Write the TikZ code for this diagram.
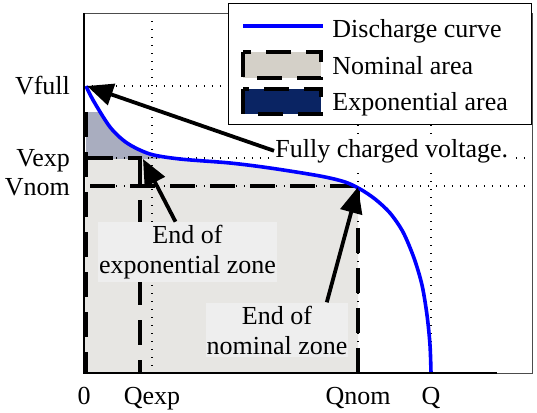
\documentclass[tikz,border=0pt]{standalone}
\usepackage{fontspec}
\setmainfont{Liberation Serif}
\usetikzlibrary{arrows.meta}

\definecolor{nomfill}{HTML}{E7E6E3}
\definecolor{expfill}{HTML}{A9ADBF}
\definecolor{legnom}{HTML}{D4D0C8}
\definecolor{legexp}{HTML}{0A2463}
\definecolor{boxfill}{HTML}{EEEEEE}

\newcommand{\dischargecurve}{plot[smooth] coordinates {(86,86) (93,100) (110,127) (127,143) (150,154) (180,159) (230,163) (270,168) (320,176) (345,182) (360,189) (375,199) (390,213) (403,232) (414,258) (422,285) (427,315) (430,345) (431,373)}}

\begin{document}
\begin{tikzpicture}[x=0.5pt, y=-0.5pt, font=\rmfamily\fontsize{13}{15}\selectfont]
        \useasboundingbox (0,0) rectangle (537,413);

        % areas under the curve
        \begin{scope}
            \clip (84,158) rectangle (358,373);
            \fill[nomfill] \dischargecurve -- (84,373) -- cycle;
        \end{scope}
        \begin{scope}
            \clip (86,112) rectangle (160,158);
            \fill[expfill] \dischargecurve -- (84,373) -- cycle;
        \end{scope}

        \begin{scope}[
            grid/.style={draw=black, line width=0.6pt, dash pattern=on 0.6pt off 3.4pt},
            zone/.style={draw=black, line width=2pt, dash pattern=on 12.5pt off 7.5pt}]
            \foreach \gx in {152, 358, 431}
                \draw[grid] (\gx,13) -- (\gx,373);
            \foreach \gy in {86, 158, 186}
                \draw[grid] (84,\gy) -- (532,\gy);
            \draw[zone] (86,112) -- (86,373);
            \draw[zone] (88,158) -- (142,158);
            \draw[zone] (140,160) -- (140,373);
            \draw[zone] (90,186) -- (358,186);
            \draw[zone] (358,188) -- (358,373);
        \end{scope}

        \draw[blue, line width=1.8pt] \dischargecurve;

        % axes
        \draw[black!70, line width=0.5pt] (84,13) rectangle (532,373);
        \draw[black, line width=0.8pt] (84,13) -- (84,373) -- (497,373);

        \coordinate (pfull) at (87,86);
        \coordinate (pexp) at (143,159);
        \coordinate (pnom) at (358,187);

        \begin{scope}[
            tick/.style={anchor=base},
            vlabel/.style={anchor=base east},
            note/.style={align=center, inner xsep=0.5pt, inner ysep=1.5pt}]
            \node[tick] (q0) at (84,404) {0};
            \node[tick] (qexp) at (152,404) {Qexp};
            \node[tick] (qnom) at (358,404) {Qnom};
            \node[tick] (qq) at (431,404) {Q};
            \node[vlabel] (vfull) at (77,94) {Vfull};
            \node[vlabel] (vexp) at (77,166) {Vexp};
            \node[vlabel] (vnom) at (77,195) {Vnom};
            \node[note, fill=white, anchor=base west] (fulltxt) at (274,157) {Fully charged voltage.};
            \node[note, fill=boxfill] (exptxt) at (187.5,252) {End of\\exponential zone};
            \node[note, fill=boxfill] (nomtxt) at (277,330) {End of\\nominal zone};
        \end{scope}

        \begin{scope}[
            every edge/.style={draw=black, line width=1.9pt, -{Triangle[length=13pt, width=11pt]}}]
            \path (fulltxt.west) edge (pfull);
            \path ([xshift=-6pt]exptxt.north) edge (pexp);
            \path ([xshift=-11pt]nomtxt.north east) edge (pnom);
        \end{scope}

        % legend
        \draw[black, line width=0.5pt, fill=white] (228,3) rectangle (531,124);
        \draw[blue, line width=1.8pt] (243,26) -- (323,26);
        \draw[fill=legnom, line width=2pt, dash pattern=on 12.5pt off 7.5pt] (243,52) rectangle (321,78);
        \draw[fill=legexp, line width=2pt, dash pattern=on 12.5pt off 7.5pt] (243,89) rectangle (321,114);
        \node[anchor=base west, inner sep=0pt] (legcurve) at (332,37) {Discharge curve};
        \node[anchor=base west, inner sep=0pt] (legnomtxt) at (332,74) {Nominal area};
        \node[anchor=base west, inner sep=0pt] (legexptxt) at (332,110) {Exponential area};

\end{tikzpicture}
\end{document}
